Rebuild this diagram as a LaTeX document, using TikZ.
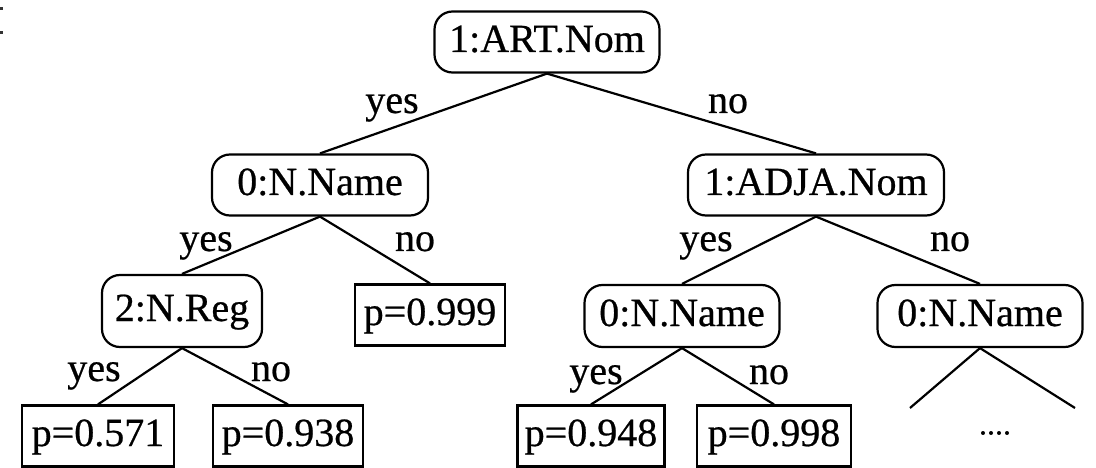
\documentclass[tikz,border=0pt]{standalone}
\usepackage{fontspec}
\setmainfont[FakeBold=0.6]{Liberation Serif}
\begin{document}
\begin{tikzpicture}[x=1pt,y=-1pt,
  every node/.style={font=\fontsize{40}{48}\selectfont},
  dec/.style={draw, rounded corners=18pt, line width=2.2pt, minimum height=61pt, inner sep=0pt, text height=30pt, text depth=10pt},
  leaf/.style={draw, line width=2.2pt, minimum height=61pt, inner sep=0pt, text height=30pt, text depth=10pt},
  lbl/.style={inner sep=0pt, anchor=base},
  edge/.style={line width=2.2pt}]
\useasboundingbox (0,0) rectangle (1096,468);
% clipped marks at top-left
\fill[black!80] (0,7) rectangle (3,10);
\fill[black!80] (0,31) rectangle (3,34);

\node[dec, minimum width=225pt] (root) at (547,42) {1:ART.Nom};
\node[dec, minimum width=216pt] (nl) at (320,185) {0:N.Name};
\node[dec, minimum width=256pt] (adja) at (816,185) {1:ADJA.Nom};
\node[dec, minimum width=160pt, minimum height=72pt] (reg) at (182,311) {2:N.Reg};
\node[leaf, minimum width=150pt] (p999) at (430,315) {p=0.999};
\node[dec, minimum width=195pt, minimum height=62pt] (nm) at (682,316) {0:N.Name};
\node[dec, minimum width=205pt, minimum height=62pt] (nr) at (980,316) {0:N.Name};
\node[leaf, minimum width=152pt] (p571) at (98,436) {p=0.571};
\node[leaf, minimum width=150pt] (p938) at (288,436) {p=0.938};
\node[leaf, minimum width=147pt] (p948) at (591,436) {p=0.948};
\node[leaf, minimum width=154pt] (p998) at (774,436) {p=0.998};
\coordinate (tl) at (910,408);
\coordinate (tr) at (1075,408);
\node[inner sep=0pt, font=\fontsize{32}{38}\selectfont] (dots) at (995,433) {....};

\draw[edge] (root.south) -- (nl.north);
\draw[edge] (root.south) -- (adja.north);
\draw[edge] (nl.south) -- (reg.north);
\draw[edge] (nl.south) -- (p999.north);
\draw[edge] (adja.south) -- (nm.north);
\draw[edge] (adja.south) -- (nr.north);
\draw[edge] (reg.south) -- (p571.north);
\draw[edge] (reg.south) -- (p938.north);
\draw[edge] (nm.south) -- (p948.north);
\draw[edge] (nm.south) -- (p998.north);
\draw[edge] (nr.south) -- (tl);
\draw[edge] (nr.south) -- (tr);

\node[lbl] (y1) at (392,113) {yes};
\node[lbl] (n1) at (728,113) {no};
\node[lbl] (y2) at (206,251) {yes};
\node[lbl] (n2) at (415,251) {no};
\node[lbl] (y3) at (706,251) {yes};
\node[lbl] (n3) at (950,251) {no};
\node[lbl] (y4) at (94,381) {yes};
\node[lbl] (n4) at (271,381) {no};
\node[lbl] (y5) at (596,384) {yes};
\node[lbl] (n5) at (769,384) {no};
\end{tikzpicture}
\end{document}
